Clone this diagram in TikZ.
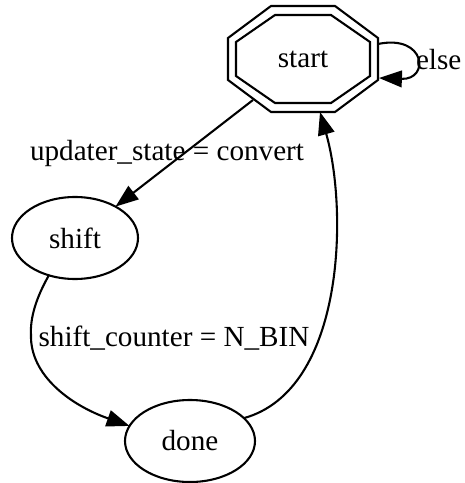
\documentclass[tikz,border=0pt]{standalone}
\usepackage{fontspec}
\setmainfont{Liberation Serif}
\usetikzlibrary{arrows.meta,shapes.geometric}
\begin{document}
\begin{tikzpicture}[x=0.48pt,y=-0.48pt,
  line width=1pt,
  every node/.style={font=\fontsize{14pt}{16pt}\selectfont, inner sep=0pt, outer sep=0pt},
  state/.style={ellipse, draw, line width=1pt},
  edge/.style={-{Triangle[length=11pt,width=8pt]}, line width=1pt},
  lbl/.style={}]
\useasboundingbox (0,0) rectangle (464,483);

% states
\node[minimum width=150*0.48pt, minimum height=106*0.48pt] (start) at (303,59) {start};
\node[state, minimum width=126*0.48pt, minimum height=82*0.48pt] (shift) at (75,238) {shift};
\node[state, minimum width=130*0.48pt, minimum height=82*0.48pt] (done) at (190,441) {done};

% double octagon of the initial state
\begin{scope}[shift={(start.center)}]
  \draw (-32,-53) -- (32,-53) -- (75,-21) -- (75,21) -- (32,53) -- (-32,53) -- (-75,21) -- (-75,-21) -- cycle;
  \draw (-28,-44) -- (28,-44) -- (67,-17) -- (67,17) -- (28,44) -- (-28,44) -- (-67,17) -- (-67,-17) -- cycle;
  \coordinate (sA) at (-50,41);
  \coordinate (sB) at (17,53);
  \coordinate (sL1) at (75,-15);
  \coordinate (sL2) at (76,19);
\end{scope}

% transitions
\draw[edge] (sA) -- (shift);
\draw[edge] (sL1) .. controls (426,34) and (430,80) .. (sL2);
\draw[edge] (shift.235) .. controls (36,298) and (30,318) .. (31,335)
            .. controls (30,375) and (70,405) .. (done.166);
\draw[edge] (done.23) .. controls (345,390) and (348,210) .. (sB);

% transition labels
\node[lbl] (l1) at (167,153) {updater\_state = convert};
\node[lbl] (l2) at (174,338) {shift\_counter = N\_BIN};
\node[lbl, anchor=west] (l3) at (416,60) {else};
\end{tikzpicture}
\end{document}
